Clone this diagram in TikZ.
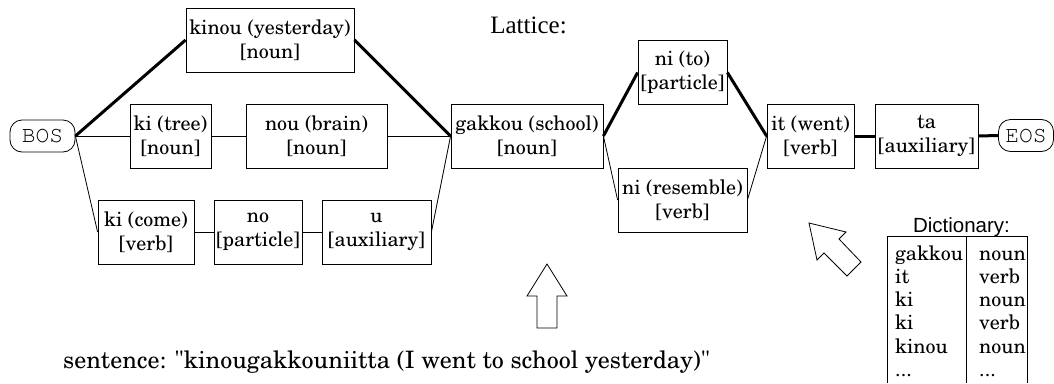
\documentclass[tikz,border=0pt]{standalone}
\usepackage[T1]{fontenc}
\usepackage{fontspec}
\newfontfamily\timesf{Liberation Serif}
\newfontfamily\arialf{Liberation Sans}
\newcommand\courf{\fontencoding{T1}\fontfamily{pcr}\selectfont}
\newcommand\scholaf{\fontencoding{T1}\fontfamily{pnc}\selectfont}

\tikzset{
  lat/.style={draw, line width=0.8pt, minimum height=64pt, inner sep=0pt,
    align=center, font=\scholaf\fontsize{20}{24}\selectfont},
  term/.style={draw, line width=0.8pt, rounded corners=12pt, minimum height=32pt,
    inner sep=0pt, font=\courf\fontsize{23}{23}\selectfont},
  best/.style={line width=3pt},
  alt/.style={line width=0.8pt},
  hollow/.style={draw, line width=0.8pt, line join=miter, fill=white},
  dictcol/.style={font=\scholaf\fontsize{20}{23.3}\selectfont, anchor=base west,
    align=left, inner sep=0pt},
}

\begin{document}
\begin{tikzpicture}[x=1pt, y=-1pt]
\useasboundingbox (0,0) rectangle (1054,383);

% title
\node[font=\timesf\fontsize{25}{25}\selectfont, anchor=base] (title) at (528.5,33) {Lattice:};

% begin / end of sentence
\node[term, minimum width=65pt] (BOS) at (42.5,136) {BOS};
\node[term, minimum width=55pt] (EOS) at (1026,135.5) {EOS};

% word lattice
\node[lat, minimum width=168pt] (kinou)  at (270,40)    {kinou (yesterday)\\{}[noun]};
\node[lat, minimum width=81pt]  (kitree) at (170.5,136) {ki (tree)\\{}[noun]};
\node[lat, minimum width=141pt] (nou)    at (316.5,136) {nou (brain)\\{}[noun]};
\node[lat, minimum width=96pt]  (kicome) at (146,232)   {ki (come)\\{}[verb]};
\node[lat, minimum width=88pt]  (no)     at (258,232)   {no\\{}[particle]};
\node[lat, minimum width=109pt] (u)      at (376.5,232) {u\\{}[auxiliary]};
\node[lat, minimum width=152pt] (gakkou) at (527,136)   {gakkou (school)\\{}[noun]};
\node[lat, minimum width=89pt]  (nito)   at (682.5,72.5) {ni (to)\\{}[particle]};
\node[lat, minimum width=129pt] (nires)  at (682.5,200) {ni (resemble)\\{}[verb]};
\node[lat, minimum width=87pt]  (it)     at (810.5,136) {it (went)\\{}[verb]};
\node[lat, minimum width=103pt] (ta)     at (926.5,136) {ta\\{}[auxiliary]};

% edges of the best path
\draw[best] (BOS.east) -- (kinou.west);
\draw[best] (kinou.east) -- (gakkou.west);
\draw[best] (gakkou.east) -- (nito.west);
\draw[best] (nito.east) -- (it.west);
\draw[best] (it.east) -- (ta.west);
\draw[best] (ta.east) -- (EOS.west);

% other edges
\draw[alt] (BOS.east) -- (kitree.west);
\draw[alt] (kitree.east) -- (nou.west);
\draw[alt] (nou.east) -- (gakkou.west);
\draw[alt] (BOS.east) -- (kicome.west);
\draw[alt] (kicome.east) -- (no.west);
\draw[alt] (no.east) -- (u.west);
\draw[alt] (u.east) -- (gakkou.west);
\draw[alt] (gakkou.east) -- (nires.west);
\draw[alt] (nires.east) -- (it.west);

% hollow arrows
\draw[hollow] (547,264) -- (567,296) -- (557,296) -- (557,328) -- (537,328)
  -- (537,296) -- (527,296) -- cycle;
\draw[hollow] (809,223) -- (846,232) -- (839,239) -- (861,262) -- (847,276)
  -- (824,253) -- (817,260) -- cycle;

% input sentence
\node[font=\scholaf\fontsize{24}{24}\selectfont, anchor=base west, inner sep=0pt] (sent) at (63,368)
  {sentence: "kinougakkouniitta (I went to school yesterday)"};

% dictionary (base anchor sits on the last row)
\node[font=\arialf\fontsize{20.5}{20.5}\selectfont, anchor=base] (dictitle) at (961.5,232) {Dictionary:};
\draw[line width=0.8pt] (887,383) -- (887,236) -- (1027,236) -- (1027,383);
\draw[line width=0.8pt] (966,236) -- (966,383);
\node[dictcol] (words) at (895,376.5) {gakkou\\it\\ki\\ki\\kinou\\...};
\node[dictcol] (tags)  at (979,376.5) {noun\\verb\\noun\\verb\\noun\\...};
\end{tikzpicture}
\end{document}
